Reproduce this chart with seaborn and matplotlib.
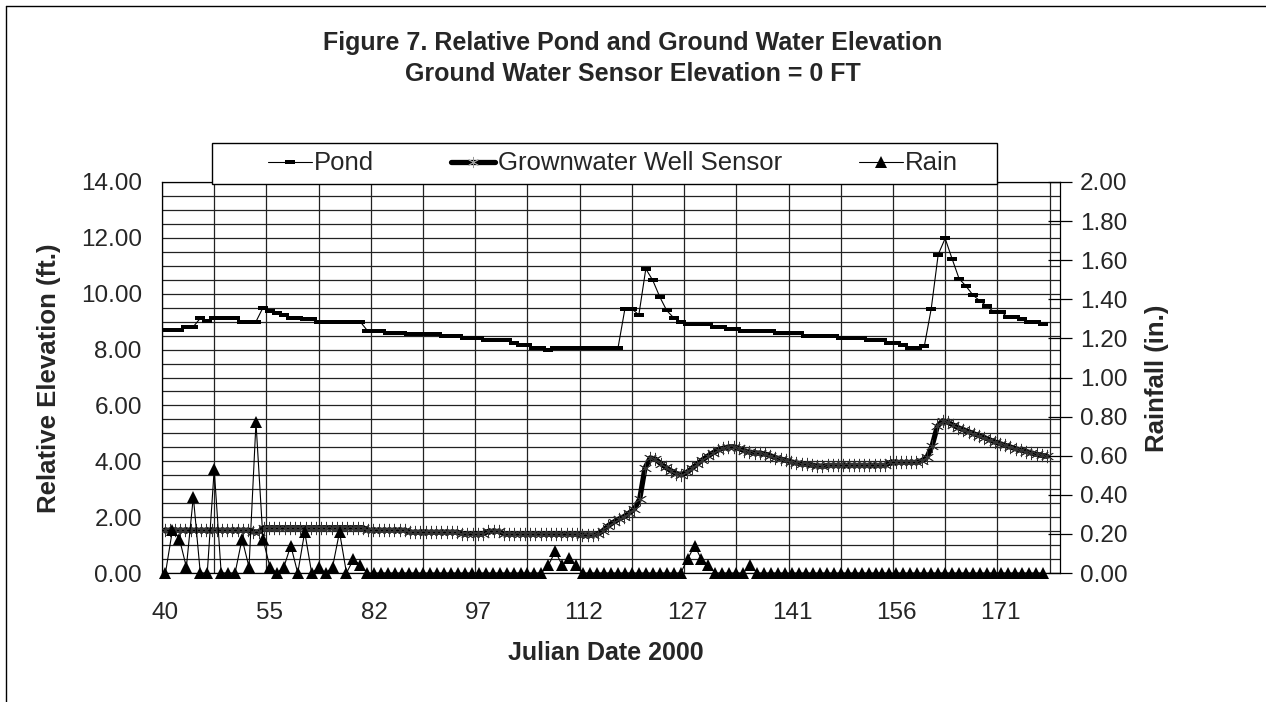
import numpy as np
import matplotlib
matplotlib.use("Agg")
import matplotlib.pyplot as plt
from matplotlib.path import Path
from matplotlib.lines import Line2D
from matplotlib.patches import Rectangle
import seaborn as sns

# ---------------------------------------------------------------- data
# Ground water well sensor, one value per logger reading (ft)
well_ft = [
    1.53, 1.53, 1.53, 1.53, 1.53, 1.53, 1.53, 1.53, 1.53, 1.53,
    1.53, 1.53, 1.53, 1.53, 1.53, 1.53, 1.53, 1.47, 1.47, 1.62,
    1.62, 1.62, 1.62, 1.62, 1.62, 1.62, 1.62, 1.62, 1.62, 1.62,
    1.62, 1.62, 1.62, 1.62, 1.62, 1.62, 1.62, 1.62, 1.62, 1.53,
    1.53, 1.53, 1.53, 1.53, 1.53, 1.53, 1.53, 1.46, 1.46, 1.46,
    1.46, 1.46, 1.46, 1.46, 1.46, 1.46, 1.46, 1.41, 1.41, 1.41,
    1.41, 1.41, 1.49, 1.49, 1.49, 1.40, 1.40, 1.40, 1.40, 1.40,
    1.40, 1.40, 1.40, 1.40, 1.40, 1.40, 1.40, 1.40, 1.40, 1.40,
    1.36, 1.36, 1.36, 1.40, 1.52, 1.70, 1.82, 1.93, 2.02, 2.15,
    2.30, 2.65, 3.75, 4.12, 4.08, 3.92, 3.78, 3.66, 3.56, 3.52,
    3.60, 3.75, 3.90, 4.05, 4.18, 4.30, 4.40, 4.47, 4.51, 4.52,
    4.46, 4.38, 4.33, 4.30, 4.29, 4.26, 4.20, 4.13, 4.08, 4.03,
    3.98, 3.94, 3.91, 3.89, 3.86, 3.84, 3.82, 3.85, 3.85, 3.85,
    3.85, 3.85, 3.85, 3.85, 3.85, 3.85, 3.85, 3.85, 3.85, 3.96,
    3.96, 3.96, 3.96, 3.96, 3.96, 4.02, 4.14, 4.55, 5.25, 5.45,
    5.40, 5.30, 5.20, 5.13, 5.06, 4.98, 4.92, 4.85, 4.77, 4.69,
    4.63, 4.57, 4.51, 4.45, 4.40, 4.35, 4.30, 4.25, 4.21, 4.18,
]

# Daily pond stage (ft)
pond_ft = [
    8.70, 8.70, 8.70, 8.82, 8.82, 9.12, 9.02, 9.12, 9.12, 9.12,
    9.12, 9.00, 9.00, 9.00, 9.50, 9.38, 9.32, 9.23, 9.14, 9.14,
    9.08, 9.08, 8.99, 8.99, 8.99, 8.99, 8.99, 8.99, 8.99, 8.68,
    8.68, 8.68, 8.61, 8.61, 8.61, 8.55, 8.55, 8.55, 8.55, 8.55,
    8.49, 8.49, 8.49, 8.40, 8.40, 8.40, 8.35, 8.35, 8.35, 8.35,
    8.25, 8.17, 8.17, 8.05, 8.05, 7.99, 8.05, 8.05, 8.05, 8.05,
    8.05, 8.05, 8.05, 8.05, 8.05, 8.05, 9.46, 9.46, 9.24, 10.89,
    10.48, 9.89, 9.40, 9.14, 8.99, 8.90, 8.90, 8.90, 8.90, 8.82,
    8.82, 8.75, 8.75, 8.67, 8.67, 8.67, 8.67, 8.67, 8.58, 8.58,
    8.58, 8.58, 8.50, 8.50, 8.50, 8.50, 8.50, 8.40, 8.40, 8.40,
    8.40, 8.33, 8.33, 8.33, 8.25, 8.25, 8.17, 8.05, 8.05, 8.11,
    9.46, 11.40, 11.98, 11.25, 10.54, 10.27, 9.95, 9.74, 9.56, 9.35,
    9.35, 9.17, 9.17, 9.08, 8.99, 8.99, 8.90,
]

# Daily rainfall (in.)
rain_in = [
    0.00, 0.22, 0.175, 0.03, 0.39, 0.00, 0.00, 0.53, 0.00, 0.00,
    0.00, 0.175, 0.03, 0.77, 0.175, 0.03, 0.00, 0.03, 0.14, 0.00,
    0.21, 0.00, 0.03, 0.00, 0.03, 0.21, 0.00, 0.07, 0.04, 0.00,
    0.00, 0.00, 0.00, 0.00, 0.00, 0.00, 0.00, 0.00, 0.00, 0.00,
    0.00, 0.00, 0.00, 0.00, 0.00, 0.00, 0.00, 0.00, 0.00, 0.00,
    0.00, 0.00, 0.00, 0.00, 0.00, 0.04, 0.11, 0.04, 0.075, 0.04,
    0.00, 0.00, 0.00, 0.00, 0.00, 0.00, 0.00, 0.00, 0.00, 0.00,
    0.00, 0.00, 0.00, 0.00, 0.00, 0.07, 0.14, 0.07, 0.04, 0.00,
    0.00, 0.00, 0.00, 0.00, 0.04, 0.00, 0.00, 0.00, 0.00, 0.00,
    0.00, 0.00, 0.00, 0.00, 0.00, 0.00, 0.00, 0.00, 0.00, 0.00,
    0.00, 0.00, 0.00, 0.00, 0.00, 0.00, 0.00, 0.00, 0.00, 0.00,
    0.00, 0.00, 0.00, 0.00, 0.00, 0.00, 0.00, 0.00, 0.00, 0.00,
    0.00, 0.00, 0.00, 0.00, 0.00, 0.00, 0.00,
]

# Julian date labels, one every 15 daily rows
date_labels = ["40", "55", "82", "97", "112", "127", "141", "156", "171"]
rows_per_label = 15

series_names = ["Pond", "Grownwater Well Sensor", "Rain"]

# ---------------------------------------------------------------- style
sns.set_theme(style="white")
plt.rcParams["font.family"] = ["Liberation Sans", "DejaVu Sans"]
plt.rcParams["axes.edgecolor"] = "black"
plt.rcParams["axes.linewidth"] = 0.9

W, H = 1266, 702
fig = plt.figure(figsize=(W / 100, H / 100), dpi=100)
fig.patch.set_facecolor("white")


def fx(px):
    return px / W


def fy(py):
    return 1 - py / H


rect = [fx(162), fy(573), fx(1060) - fx(162), fy(182) - fy(573)]

# spreadsheet ranges carry two blank rows at the end
n_reading_slots = len(well_ft) + 2
n_day_slots = len(pond_ft) + 2

# small flat bar used as the pond marker
dash = Path([(-1, -0.36), (1, -0.36), (1, 0.36), (-1, 0.36), (-1, -0.36)],
            [Path.MOVETO, Path.LINETO, Path.LINETO, Path.LINETO, Path.CLOSEPOLY])
star = (6, 2, 0)

# --------------------------------------------------- well (reading axis)
ax = fig.add_axes(rect)
ax.set_facecolor("white")
sns.lineplot(x=np.arange(len(well_ft)), y=well_ft, ax=ax, color="black",
             linewidth=3.8, marker=star, markersize=9.5, markeredgewidth=0.6,
             markeredgecolor="#333333", estimator=None, legend=False, zorder=3)
ax.set_xlim(-0.5, n_reading_slots - 0.5)
ax.set_ylim(0, 14)
ax.set_xticks(np.arange(-0.5, n_reading_slots, 20))
ax.set_xticks(np.arange(9.5, n_reading_slots, 20), minor=True)
ax.tick_params(axis="x", which="major", direction="out", length=7, width=0.9,
               labelbottom=False, color="black")
ax.tick_params(axis="x", which="minor", length=0)
ax.set_yticks(np.arange(0, 14.01, 2))
ax.set_yticks(np.arange(0, 14.01, 0.5), minor=True)
ax.set_yticklabels([f"{v:.2f}" for v in np.arange(0, 14.01, 2)])
ax.tick_params(axis="y", which="major", direction="inout", length=17, width=0.9,
               labelsize=17.5, pad=6, color="black")
ax.tick_params(axis="y", which="minor", length=0)
ax.grid(True, axis="x", which="both", color="#222222", linewidth=0.9)
ax.grid(True, axis="y", which="both", color="#222222", linewidth=0.9)
ax.set_axisbelow(True)
ax.set_xlabel("")
ax.set_ylabel("")
for s in ax.spines.values():
    s.set_visible(True)
    s.set_color("black")

# --------------------------------------------------- pond (daily axis)
axd = fig.add_axes(rect, frameon=False)
axd.patch.set_visible(False)
sns.lineplot(x=np.arange(len(pond_ft)), y=pond_ft, ax=axd, color="black",
             linewidth=0.8, marker=dash, markersize=7.5, markeredgewidth=0,
             markerfacecolor="black", estimator=None, legend=False, zorder=4)
axd.set_xlim(-0.5, n_day_slots - 0.5)
axd.set_ylim(0, 14)
axd.set_xticks(np.arange(0, rows_per_label * len(date_labels), rows_per_label))
axd.set_xticklabels(date_labels)
axd.tick_params(axis="x", length=0, labelsize=17.5, pad=21)
axd.yaxis.set_visible(False)
axd.set_xlabel("")
axd.set_ylabel("")

# --------------------------------------------------- rain (right axis)
axr = axd.twinx()
sns.lineplot(x=np.arange(len(rain_in)), y=rain_in, ax=axr, color="black",
             linewidth=0.8, marker="^", markersize=8.5, markeredgewidth=0,
             markerfacecolor="black", estimator=None, legend=False, zorder=5,
             clip_on=False)
axr.set_ylim(0, 2)
axr.set_yticks(np.arange(0, 2.001, 0.2))
axr.set_yticklabels([f"{v:.2f}" for v in np.arange(0, 2.001, 0.2)])
axr.tick_params(axis="y", direction="inout", length=17, width=0.9,
                labelsize=17.5, pad=6, color="black")
axr.set_ylabel("")
for s in axr.spines.values():
    s.set_visible(False)

# --------------------------------------------------- text
fig.text(fx(633), fy(43), "Figure 7. Relative Pond and Ground Water Elevation",
         ha="center", va="center", fontsize=18, fontweight="bold")
fig.text(fx(633), fy(74), "Ground Water Sensor Elevation = 0 FT",
         ha="center", va="center", fontsize=18, fontweight="bold")
fig.text(fx(49), fy(378), "Relative Elevation (ft.)", rotation=90,
         ha="center", va="center", fontsize=18.5, fontweight="bold")
fig.text(fx(1157), fy(378), "Rainfall (in.)", rotation=90,
         ha="center", va="center", fontsize=18.5, fontweight="bold")
fig.text(fx(606), fy(653), "Julian Date 2000",
         ha="center", va="center", fontsize=18, fontweight="bold")

# --------------------------------------------------- legend
fig.patches.append(Rectangle((fx(212), fy(184)), fx(997) - fx(212), fy(143) - fy(184),
                             transform=fig.transFigure, facecolor="white",
                             edgecolor="black", linewidth=1.0, zorder=10))
handles = [
    Line2D([], [], color="black", linewidth=0.8, marker=dash, markersize=7.5,
           markeredgewidth=0, markerfacecolor="black"),
    Line2D([], [], color="black", linewidth=3.8, marker=star, markersize=8,
           markeredgewidth=0.6, markeredgecolor="#9a9a9a"),
    Line2D([], [], color="black", linewidth=0.8, marker="^", markersize=8.5,
           markeredgewidth=0, markerfacecolor="black"),
]
leg = fig.legend(handles, series_names, loc="center", ncol=3,
                 bbox_to_anchor=(fx(613), fy(163.5)), frameon=False,
                 fontsize=18.5, handlelength=1.7, handletextpad=0.1,
                 columnspacing=3.0, borderpad=0.2)
leg.set_zorder(11)

# outer chart border
fig.add_artist(Line2D([fx(5.5), fx(5.5)], [fy(5.5), 0], color="black",
                      linewidth=1.0, transform=fig.transFigure))
fig.add_artist(Line2D([fx(5.5), 1], [fy(5.5), fy(5.5)], color="black",
                      linewidth=1.0, transform=fig.transFigure))

fig.savefig("out.png", dpi=100, facecolor="white")
